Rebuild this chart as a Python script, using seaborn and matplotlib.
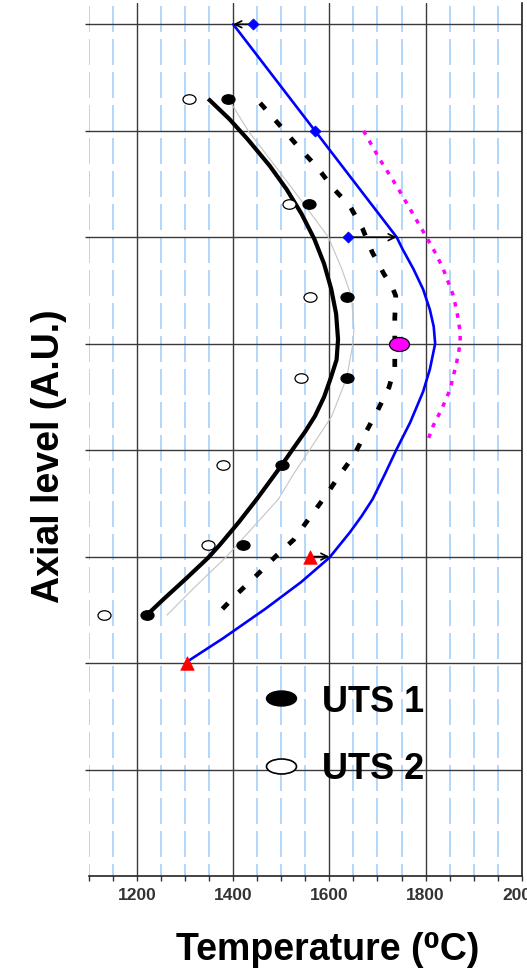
import numpy as np
import pandas as pd
import seaborn as sns
import matplotlib
matplotlib.use("Agg")
import matplotlib.pyplot as plt
from matplotlib.path import Path
from matplotlib.lines import Line2D
import matplotlib.transforms as mtransforms
from matplotlib.ticker import MultipleLocator, FixedLocator

# ---- measured profiles: temperature (deg C) vs axial level (A.U.) ----
uts1_temp = [1390, 1558, 1637, 1636, 1502, 1420, 1220]
uts1_level = [7.30, 6.31, 5.44, 4.68, 3.86, 3.11, 2.45]

uts2_temp = [1307, 1517, 1560, 1540, 1379, 1348, 1131]
uts2_level = [7.30, 6.31, 5.44, 4.68, 3.86, 3.11, 2.45]

# fitted profile through UTS 1 (thick black)
fit1_temp = [1348, 1392, 1430, 1476, 1511, 1542, 1569, 1589, 1604, 1614, 1618, 1615,
             1603, 1589, 1570, 1549, 1524, 1501, 1475, 1449, 1411, 1372, 1348, 1301,
             1255, 1220]
fit1_level = [7.30, 7.11, 6.92, 6.67, 6.45, 6.22, 5.98, 5.75, 5.51, 5.28, 5.04, 4.85,
              4.68, 4.50, 4.32, 4.17, 4.01, 3.86, 3.70, 3.54, 3.32, 3.11, 2.99, 2.79,
              2.60, 2.45]

# alternative fit (thin grey)
fit2_temp = [1390, 1431, 1487, 1539, 1598, 1626, 1646, 1651, 1649, 1636, 1605, 1560,
             1526, 1494, 1438, 1386, 1317, 1262]
fit2_level = [7.30, 7.00, 6.67, 6.36, 6.00, 5.70, 5.44, 5.14, 5.00, 4.68, 4.32, 4.01,
              3.78, 3.54, 3.26, 3.00, 2.70, 2.45]

# shifted profile (black dashed)
shift_temp = [1456, 1499, 1537, 1574, 1608, 1643, 1669, 1689, 1714, 1729, 1738, 1736,
              1736, 1736, 1724, 1700, 1676, 1651, 1622, 1592, 1558, 1526, 1490, 1450,
              1408, 1367]
shift_level = [7.26, 7.04, 6.84, 6.66, 6.46, 6.29, 6.08, 5.86, 5.65, 5.55, 5.45, 5.24,
               5.00, 4.78, 4.59, 4.37, 4.17, 3.95, 3.77, 3.57, 3.36, 3.16, 3.01, 2.83,
               2.65, 2.46]

# envelope profile (blue)
env_temp = [1400, 1570, 1740, 1752, 1775, 1795, 1809, 1817, 1820, 1809, 1795, 1768,
            1740, 1716, 1690, 1667, 1643, 1600, 1541, 1467, 1378, 1303]
env_level = [8.00, 7.00, 6.00, 5.89, 5.70, 5.51, 5.32, 5.16, 5.00, 4.76, 4.55, 4.26,
             4.01, 3.78, 3.54, 3.38, 3.23, 2.99, 2.76, 2.51, 2.23, 2.01]

# upper bound profile (magenta dotted)
upper_temp = [1671, 1705, 1740, 1771, 1802, 1822, 1837, 1858, 1866, 1872, 1872, 1865,
              1851, 1834, 1816, 1802]
upper_level = [7.00, 6.73, 6.48, 6.24, 6.00, 5.84, 5.70, 5.45, 5.28, 5.11, 5.00, 4.83,
               4.57, 4.39, 4.23, 4.06]

peak_temp = [1745]
peak_level = [5.00]

diamond_temp = [1442, 1570, 1638]
diamond_level = [8.0, 7.0, 6.0]

triangle_temp = [1560, 1304]
triangle_level = [3.0, 2.0]

# shift arrows: (from temp, to temp, level)
arrow_from = [1442, 1638, 1560]
arrow_to = [1400, 1740, 1600]
arrow_level = [8.0, 6.0, 3.0]

x_major = [1200, 1400, 1600, 1800, 2000]
x_labels = ["1200", "1400", "1600", "1800", "2000"]
y_major = [1, 2, 3, 4, 5, 6, 7, 8]

legend_labels = ["UTS 1", "UTS 2"]

# ---- styling ----
sns.set_theme(style="white")
FAM = ["Liberation Sans", "DejaVu Sans"]
plt.rcParams["font.family"] = FAM
plt.rcParams["text.color"] = "black"


def ellipse(aspect):
    return Path.unit_circle().transformed(mtransforms.Affine2D().scale(aspect, 1.0))


dot = ellipse(1.37)
peak_mark = ellipse(1.43)
legend_mark = ellipse(2.0)

fig = plt.figure(figsize=(5.27, 9.70), dpi=100)
W, H = 527.0, 970.0
x0, x1, y0, y1 = 89.0, 521.7, 4.0, 877.0
ax = fig.add_axes([x0 / W, 1 - y1 / H, (x1 - x0) / W, (y1 - y0) / H])
ax.set_xlim(1100, 2000)
ax.set_ylim(0, 8.2)
ax.set_facecolor("white")

ax.xaxis.set_major_locator(FixedLocator(x_major))
ax.set_xticks(x_major)
ax.set_xticklabels(x_labels)
ax.xaxis.set_minor_locator(MultipleLocator(50))
ax.set_yticks(y_major)
ax.set_yticklabels([])

ax.set_axisbelow(True)
ax.grid(which="minor", axis="x", color="#b4d8fc", lw=1.44,
        linestyle=(7.0, (13.0, 3.5)))
ax.grid(which="major", axis="both", color="#3a3a3a", lw=1.0)

for side in ("left", "top"):
    ax.spines[side].set_visible(False)
for side in ("bottom", "right"):
    ax.spines[side].set_visible(True)
    ax.spines[side].set_color("#222222")
    ax.spines[side].set_linewidth(1.2)

ax.tick_params(axis="x", which="both", direction="out", length=3.5, width=1.0,
               color="#333333", bottom=True, pad=4.5)
ax.tick_params(axis="y", which="major", direction="out", length=3.2, width=1.0,
               color="#333333", left=True)
for lab in ax.get_xticklabels():
    lab.set_fontweight("bold")
    lab.set_fontsize(12.5)
    lab.set_color("#333333")

# ---- curves ----
line_kw = dict(sort=False, estimator=None, ax=ax)
sns.lineplot(x=fit2_temp, y=fit2_level, color="#c4c4c4", lw=0.8, zorder=3, **line_kw)
sns.lineplot(x=fit1_temp, y=fit1_level, color="black", lw=3.0, zorder=4,
             solid_capstyle="butt", solid_joinstyle="round", **line_kw)
sns.lineplot(x=shift_temp, y=shift_level, color="black", lw=3.4,
             linestyle=(0, (1.7, 3.2)), dash_capstyle="butt", zorder=4, **line_kw)
sns.lineplot(x=env_temp, y=env_level, color="#0000ff", lw=1.9, zorder=4,
             solid_joinstyle="round", **line_kw)
sns.lineplot(x=upper_temp, y=upper_level, color="#ff00ff", lw=2.5,
             linestyle=(0, (1.3, 2.0)), dash_capstyle="butt", zorder=4, **line_kw)

# ---- arrows ----
for xf, xt, lv in zip(arrow_from, arrow_to, arrow_level):
    ax.annotate("", xy=(xt, lv), xytext=(xf, lv),
                arrowprops=dict(arrowstyle="->", color="black", lw=1.2,
                                shrinkA=0, shrinkB=0, mutation_scale=12),
                zorder=5)

# ---- markers ----
sns.scatterplot(x=uts2_temp, y=uts2_level, ax=ax, marker=dot, s=88,
                facecolor="white", edgecolor="black", linewidth=0.9, zorder=6)
sns.scatterplot(x=uts1_temp, y=uts1_level, ax=ax, marker=dot, s=88,
                facecolor="black", edgecolor="black", linewidth=0.9, zorder=6)
sns.scatterplot(x=diamond_temp, y=diamond_level, ax=ax, marker="D", s=32,
                color="#0000ff", edgecolor="#0000ff", linewidth=0.5, zorder=6)
sns.scatterplot(x=triangle_temp, y=triangle_level, ax=ax, marker="^", s=95,
                color="#ff0000", edgecolor="#ff0000", linewidth=0.5, zorder=6)
sns.scatterplot(x=peak_temp, y=peak_level, ax=ax, marker=peak_mark, s=207,
                color="#ff00ff", edgecolor="black", linewidth=0.9, zorder=7)

# ---- legend ----
handles = [
    Line2D([], [], ls="", marker=legend_mark, ms=21.6, mfc="black", mec="black", mew=1.0),
    Line2D([], [], ls="", marker=legend_mark, ms=21.6, mfc="white", mec="black", mew=1.2),
]
leg = ax.legend(handles, legend_labels, loc="center left",
                bbox_to_anchor=(0.4004, 0.1615), frameon=False,
                prop=dict(family=FAM, weight="bold", size=26),
                handlelength=1.04, handletextpad=0.62, labelspacing=0.9,
                borderpad=0, borderaxespad=0)
for txt in leg.get_texts():
    txt.set_color("black")

# ---- axis titles ----
fig.text(327.3 / W, 1 - 950 / H, "Temperature (\u2070C)", ha="center", va="center",
         fontsize=27, fontweight="bold", family=FAM, color="black")
fig.text(49 / W, 1 - 456 / H, "Axial level (A.U.)", ha="center", va="center",
         rotation=90, fontsize=27, fontweight="bold", family=FAM, color="black")

fig.savefig("out.png", dpi=100)
